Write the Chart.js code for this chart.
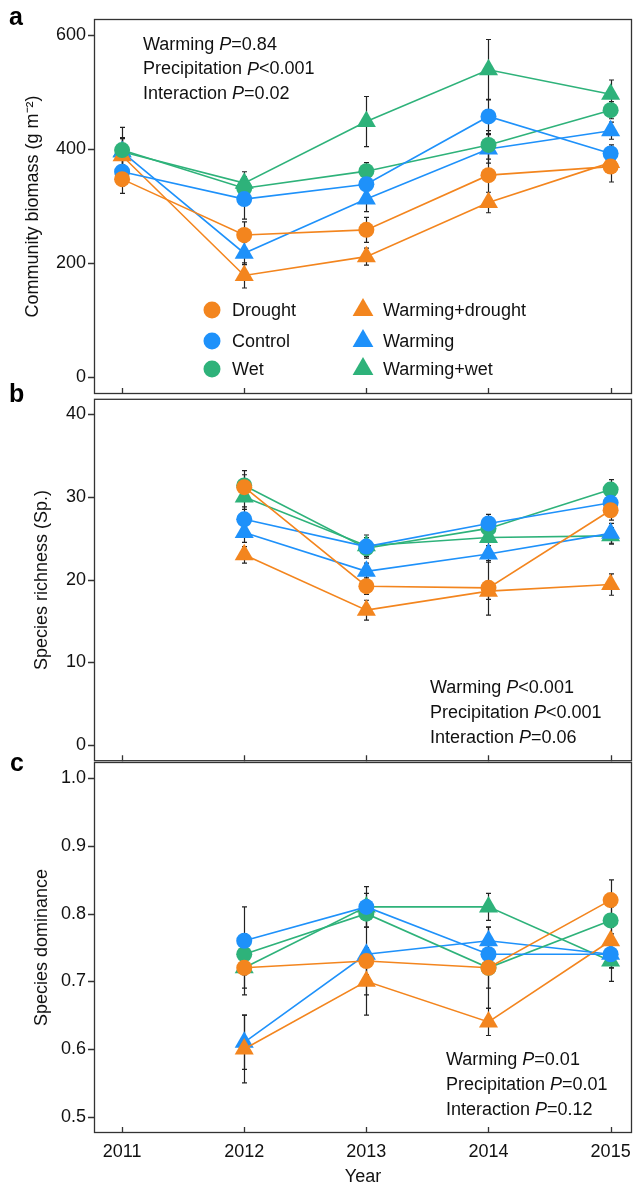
<!DOCTYPE html>
<html><head><meta charset="utf-8">
<script src="https://cdn.jsdelivr.net/npm/chart.js@4.4.1/dist/chart.umd.min.js"></script>
<style>
html,body{margin:0;padding:0;background:#fff;}
#wrap{position:relative;width:643px;height:1185px;overflow:hidden;background:#fff;}
canvas{position:absolute;left:0;}
</style></head><body>
<div id="wrap">
<canvas id="ca" width="643" height="420" style="top:0px;width:643px;height:420px"></canvas>
<canvas id="cb" width="643" height="400" style="top:380px;width:643px;height:400px"></canvas>
<canvas id="cc" width="643" height="448" style="top:740px;width:643px;height:448px"></canvas>
</div>
<script>
// ---------- data ----------
const years = [2011, 2012, 2013, 2014, 2015];
const seriesNames = ['Drought', 'Control', 'Wet', 'Warming+drought', 'Warming', 'Warming+wet'];

// Panel a: community biomass (g m-2)
const biomassDrought      = [347, 249, 258, 354, 369];
const biomassControl      = [360, 312, 338, 457, 392];
const biomassWet          = [398, 331, 361, 407, 468];
const biomassWarmDrought  = [388, 178, 211, 306, 376];
const biomassWarming      = [395, 217, 312, 400, 432];
const biomassWarmWet      = [395, 340, 448, 539, 496];
const biomassDroughtErr     = [25, 23, 22, 40, 27];
const biomassControlErr     = [25, 35, 20, 30, 15];
const biomassWetErr         = [40, 20, 15, 25, 15];
const biomassWarmDroughtErr = [30, 22, 15, 18, 15];
const biomassWarmingErr     = [25, 20, 22, 25, 15];
const biomassWarmWetErr     = [25, 20, 44, 53, 25];

// Panel b: species richness
const richDrought      = [null, 31.2, 19.2, 19.0, 28.4];
const richControl      = [null, 27.3, 24.0, 26.8, 29.3];
const richWet          = [null, 31.4, 23.8, 26.2, 30.9];
const richWarmDrought  = [null, 23.0, 16.3, 18.6, 19.4];
const richWarming      = [null, 25.7, 21.0, 23.1, 25.6];
const richWarmWet      = [null, 30.0, 24.1, 25.1, 25.3];
const richDroughtErr     = [null, 1.5, 1.0, 3.3, 1.2];
const richControlErr     = [null, 1.5, 1.4, 1.1, 1.0];
const richWetErr         = [null, 1.8, 1.0, 1.0, 1.2];
const richWarmDroughtErr = [null, 1.0, 1.2, 1.0, 1.3];
const richWarmingErr     = [null, 1.2, 1.0, 1.0, 1.2];
const richWarmWetErr     = [null, 1.5, 1.0, 1.0, 1.0];

// Panel c: species dominance
const domDrought      = [null, 0.72, 0.73, 0.72, 0.82];
const domControl      = [null, 0.76, 0.81, 0.74, 0.74];
const domWet          = [null, 0.74, 0.80, 0.72, 0.79];
const domWarmDrought  = [null, 0.60, 0.70, 0.64, 0.76];
const domWarming      = [null, 0.61, 0.74, 0.76, 0.74];
const domWarmWet      = [null, 0.72, 0.81, 0.81, 0.73];
const domDroughtErr     = [null, 0.04, 0.02, 0.06, 0.03];
const domControlErr     = [null, 0.05, 0.03, 0.02, 0.02];
const domWetErr         = [null, 0.03, 0.02, 0.03, 0.02];
const domWarmDroughtErr = [null, 0.05, 0.05, 0.02, 0.02];
const domWarmingErr     = [null, 0.04, 0.06, 0.02, 0.02];
const domWarmWetErr     = [null, 0.03, 0.02, 0.02, 0.03];

// tick labels
const yTicksA = [0, 200, 400, 600];
const yTicksB = [0, 10, 20, 30, 40];
const yTicksC = [0.5, 0.6, 0.7, 0.8, 0.9, 1.0];
const xTickLabels = ['2011', '2012', '2013', '2014', '2015'];

const statsA = [['Warming ', '0.84', '='], ['Precipitation ', '0.001', '<'], ['Interaction ', '0.02', '=']];
const statsB = [['Warming ', '0.001', '<'], ['Precipitation ', '0.001', '<'], ['Interaction ', '0.06', '=']];
const statsC = [['Warming ', '0.01', '='], ['Precipitation ', '0.01', '='], ['Interaction ', '0.12', '=']];

// ---------- styles ----------
const ORANGE = 'rgb(243,133,30)';
const BLUE = 'rgb(30,145,250)';
const GREEN = 'rgb(46,178,122)';
const colors = [ORANGE, BLUE, GREEN, ORANGE, BLUE, GREEN];
const shapes = ['circle', 'circle', 'circle', 'triangle', 'triangle', 'triangle'];
const FONT = "'Liberation Sans', Arial, Helvetica, sans-serif";
Chart.defaults.font.family = FONT;
Chart.defaults.color = '#111';

function makeDatasets(vals, errs) {
  return vals.map((arr, k) => ({
    label: seriesNames[k],
    data: years.map((yr, i) => arr[i] == null ? null : {x: yr, y: arr[i], e: errs[k][i]}).filter(p => p),
    borderColor: colors[k],
    backgroundColor: colors[k],
    pointStyle: shapes[k],
    pointRadius: shapes[k] === 'circle' ? 8 : 11,
    pointBorderWidth: 0,
    borderWidth: 1.6,
    tension: 0,
    clip: false
  }));
}

const errorBars = {
  id: 'errorBars',
  beforeDatasetsDraw(chart) {
    const {ctx} = chart; const xs = chart.scales.x, ys = chart.scales.y;
    ctx.save(); ctx.strokeStyle = '#222'; ctx.lineWidth = 1.2;
    chart.data.datasets.forEach(ds => ds.data.forEach(p => {
      const px = Math.round(xs.getPixelForValue(p.x)) + 0.5;
      const t = ys.getPixelForValue(p.y + p.e), b = ys.getPixelForValue(p.y - p.e);
      ctx.beginPath();
      ctx.moveTo(px, t); ctx.lineTo(px, b);
      ctx.moveTo(px - 2.5, t); ctx.lineTo(px + 2.5, t);
      ctx.moveTo(px - 2.5, b); ctx.lineTo(px + 2.5, b);
      ctx.stroke();
    }));
    ctx.restore();
  }
};

function framePlugin(letter, letterPos, stats, statsPos, legend) {
  return {
    id: 'frame',
    afterDatasetsDraw(chart) {
      const {ctx, chartArea: a} = chart; const xs = chart.scales.x, ys = chart.scales.y;
      ctx.save();
      ctx.strokeStyle = '#333'; ctx.lineWidth = 1.3;
      ctx.strokeRect(a.left + 0.5, a.top + 0.5, a.right - a.left - 1, a.bottom - a.top - 1);
      ctx.beginPath();
      ys.ticks.forEach(t => { const py = Math.round(ys.getPixelForValue(t.value)) + 0.5; ctx.moveTo(a.left - 6, py); ctx.lineTo(a.left, py); });
      years.forEach(yr => { const px = Math.round(xs.getPixelForValue(yr)) + 0.5; ctx.moveTo(px, a.bottom); ctx.lineTo(px, a.bottom - 6); });
      ctx.stroke();
      // panel letter
      ctx.fillStyle = '#000'; ctx.font = 'bold 25px ' + FONT; ctx.textBaseline = 'alphabetic'; ctx.textAlign = 'left';
      ctx.fillText(letter, letterPos[0], letterPos[1]);
      // stats
      ctx.textBaseline = 'middle'; ctx.fillStyle = '#111';
      stats.forEach((s, i) => {
        let x = statsPos[0]; const y = statsPos[1] + i * statsPos[2];
        ctx.font = '18px ' + FONT; ctx.fillText(s[0], x, y); x += ctx.measureText(s[0]).width;
        ctx.font = 'italic 18px ' + FONT; ctx.fillText('P', x, y); x += ctx.measureText('P').width;
        ctx.font = '18px ' + FONT; ctx.fillText(s[2] + s[1], x, y);
      });
      if (legend) {
        const rows = [310, 341, 369], mx = [212, 363], tx = [232, 383];
        chart.data.datasets.forEach((ds, k) => {
          const col = k < 3 ? 0 : 1, row = k % 3; const cx = mx[col], cy = rows[row];
          ctx.fillStyle = ds.backgroundColor; ctx.beginPath();
          if (ds.pointStyle === 'circle') ctx.arc(cx, cy, 8.5, 0, Math.PI * 2);
          else { const r = 12; ctx.moveTo(cx, cy - r); ctx.lineTo(cx + 0.866 * r, cy + 0.5 * r); ctx.lineTo(cx - 0.866 * r, cy + 0.5 * r); ctx.closePath(); }
          ctx.fill();
          ctx.fillStyle = '#111'; ctx.font = '18px ' + FONT; ctx.fillText(ds.label, tx[col], cy + 1);
        });
      }
      ctx.restore();
    }
  };
}

function makeChart(id, datasets, yMin, yMax, yTicks, fmt, yTitle, titlePad, isBottom, pad, plugin) {
  return new Chart(document.getElementById(id), {
    type: 'line',
    data: {datasets},
    options: {
      responsive: false, animation: false, events: [],
      layout: {padding: pad},
      plugins: {legend: {display: false}, tooltip: {enabled: false}},
      scales: {
        x: {
          type: 'linear', min: 2010.77, max: 2015.175, display: isBottom,
          grid: {display: false, drawTicks: false}, border: {display: false},
          afterBuildTicks: s => { s.ticks = years.map(v => ({value: v})); },
          ticks: {font: {size: 18}, padding: 8, color: '#111', callback: (v) => xTickLabels[years.indexOf(v)]},
          title: {display: isBottom, text: 'Year', font: {size: 18}, color: '#111', padding: {top: 0, bottom: 0}},
          afterFit: s => { s.height = isBottom ? 55 : 0; }
        },
        y: {
          type: 'linear', min: yMin, max: yMax,
          grid: {display: false, drawTicks: false}, border: {display: false},
          afterBuildTicks: s => { s.ticks = yTicks.map(v => ({value: v})); },
          ticks: {font: {size: 18}, padding: 8, color: '#111', callback: fmt},
          title: {display: true, text: yTitle, font: {size: 18}, color: '#111', padding: {top: titlePad, bottom: 0}},
          afterFit: s => { s.width = 94; }
        }
      }
    },
    plugins: [errorBars, plugin]
  });
}

makeChart('ca',
  makeDatasets([biomassDrought, biomassControl, biomassWet, biomassWarmDrought, biomassWarming, biomassWarmWet],
               [biomassDroughtErr, biomassControlErr, biomassWetErr, biomassWarmDroughtErr, biomassWarmingErr, biomassWarmWetErr]),
  -30, 628, yTicksA, v => String(v), 'Community biomass (g m\u207B\u00B2)', 22, false,
  {left: 0, right: 7, top: 19, bottom: 26},
  framePlugin('a', [9, 25], statsA, [143, 45, 24.5], true));

makeChart('cb',
  makeDatasets([richDrought, richControl, richWet, richWarmDrought, richWarming, richWarmWet],
               [richDroughtErr, richControlErr, richWetErr, richWarmDroughtErr, richWarmingErr, richWarmWetErr]),
  -2.0, 41.9, yTicksB, v => String(v), 'Species richness (Sp.)', 31, false,
  {left: 0, right: 7, top: 14, bottom: 18},
  framePlugin('b', [9, 22], statsB, [430, 308, 25]));

makeChart('cc',
  makeDatasets([domDrought, domControl, domWet, domWarmDrought, domWarming, domWarmWet],
               [domDroughtErr, domControlErr, domWetErr, domWarmDroughtErr, domWarmingErr, domWarmWetErr]),
  0.476, 1.024, yTicksC, v => v.toFixed(1), 'Species dominance', 31, true,
  {left: 0, right: 7, top: 22, bottom: 0},
  framePlugin('c', [10, 31], statsC, [446, 320, 25]));
</script>
</body></html>
